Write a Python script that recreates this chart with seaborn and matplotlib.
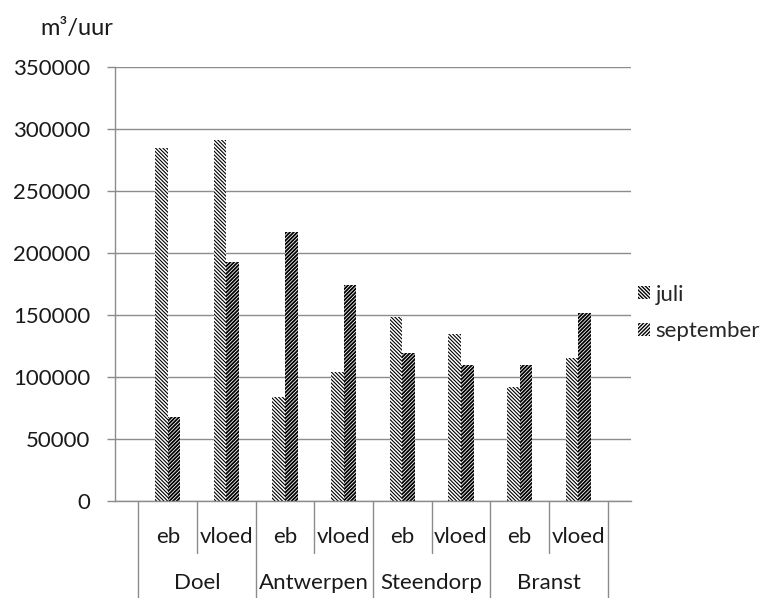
import pandas as pd
import matplotlib.pyplot as plt
import seaborn as sns

locaties = ["Doel", "Antwerpen", "Steendorp", "Branst"]
getij = ["eb", "vloed"]
juli = [285000, 291000, 84000, 104000, 148000, 135000, 92000, 115000]
september = [68000, 193000, 217000, 174000, 119000, 110000, 110000, 152000]
yticks = [0, 50000, 100000, 150000, 200000, 250000, 300000, 350000]

slots = [f"{loc} {g}" for loc in locaties for g in getij]
df = pd.DataFrame({
    "slot": slots * 2,
    "debiet": juli + september,
    "maand": ["juli"] * len(slots) + ["september"] * len(slots),
})

sns.set_style("white")
plt.rcParams["font.family"] = ["Lato", "DejaVu Sans"]
plt.rcParams["hatch.linewidth"] = 1.0
grey = "#8c8c8c"
ink = "#1a1a1a"
fs = 16

fig = plt.figure(figsize=(7.81, 5.98), dpi=100)
ax = fig.add_axes([115 / 781, 1 - 501 / 598, 516 / 781, 434 / 598])

sns.barplot(data=df, x="slot", y="debiet", hue="maand",
            hue_order=["juli", "september"], order=slots,
            palette={"juli": "white", "september": "white"},
            width=0.43, gap=0, edgecolor="black", linewidth=0,
            legend=False, ax=ax)

hatches = {"juli": "\\" * 9, "september": "/" * 9}
hatch_lw = {"juli": 0.8, "september": 1.3}
for cont, maand in zip(ax.containers, ["juli", "september"]):
    for bar in cont:
        bar.set_hatch(hatches[maand])
        bar.set_edgecolor("black")
        bar.set_linewidth(0)
        try:
            bar.set_hatch_linewidth(hatch_lw[maand])
        except AttributeError:
            pass

ax.set_ylim(0, 350000)
ax.set_yticks(yticks)
ax.set_yticklabels([str(v) for v in yticks], fontsize=fs, color=ink)
ax.yaxis.grid(True, color=grey, linewidth=1)
ax.set_axisbelow(True)
ax.tick_params(axis="y", left=True, length=6, width=1, color=grey, pad=12)
ax.set_xticks(range(len(slots)))
ax.set_xticklabels([])
ax.tick_params(axis="x", bottom=False)
ax.set_xlabel("")
ax.set_ylabel("")
for s in ["top", "right"]:
    ax.spines[s].set_visible(False)
for s in ["left", "bottom"]:
    ax.spines[s].set_color(grey)
    ax.spines[s].set_linewidth(1)

# two-level category axis
tr = ax.get_xaxis_transform()
row1 = -36 / 434
row2 = -82 / 434
for i, s in enumerate(slots):
    ax.text(i, row1, s.split(" ")[1], transform=tr, ha="center", va="center",
            fontsize=fs, color=ink)
for j, loc in enumerate(locaties):
    ax.text(2 * j + 0.5, row2, loc, transform=tr, ha="center", va="center",
            fontsize=fs, color=ink)
for k in range(len(slots) + 1):
    x = k - 0.5
    bottom = -97 / 434 if k % 2 == 0 else -52 / 434
    ax.plot([x, x], [0, bottom], transform=tr, color=grey, linewidth=1,
            clip_on=False)

fig.text(40 / 781, 1 - 28 / 598, "m³/uur", fontsize=fs + 1, va="center",
         color=ink)

handles = [ax.containers[0][0], ax.containers[1][0]]
ax.legend(handles=handles, labels=["juli", "september"],
          loc="center left", bbox_to_anchor=(638 / 781, 1 - 313 / 598),
          bbox_transform=fig.transFigure, frameon=False, fontsize=fs,
          handlelength=0.55, handleheight=0.55, handletextpad=0.25,
          labelspacing=0.75, borderaxespad=0, borderpad=0)

fig.savefig("out.png", dpi=100)
